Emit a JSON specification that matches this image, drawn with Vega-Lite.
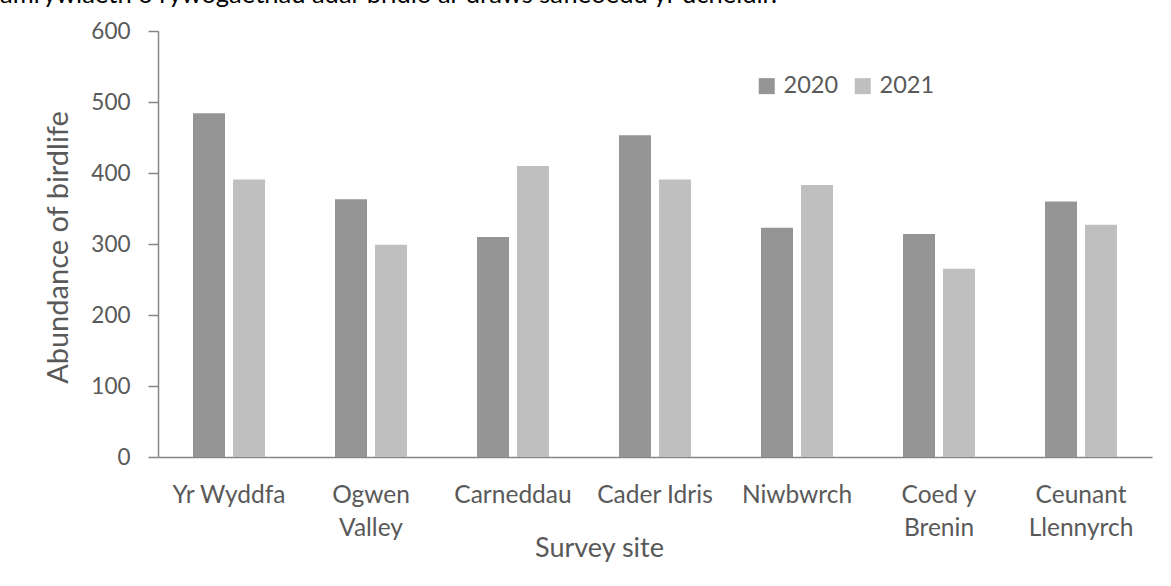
{
  "$schema": "https://vega.github.io/schema/vega-lite/v6.json",
  "width": 994,
  "height": 426,
  "autosize": {"type": "none"},
  "padding": {"left": 158, "top": 31, "right": 19, "bottom": 129},
  "background": "white",
  "title": {
    "text": "amrywiaeth o rywogaethau adar bridio ar draws safleoedd yr ucheldir.",
    "anchor": "start",
    "frame": "group",
    "dx": -158,
    "dy": 8,
    "offset": 0,
    "baseline": "alphabetic",
    "font": "Lato",
    "fontSize": 25.5,
    "fontWeight": "normal",
    "color": "#000000"
  },
  "data": {
    "values": [
      {"site": "Yr Wyddfa", "year": "2020", "value": 484},
      {"site": "Yr Wyddfa", "year": "2021", "value": 391},
      {"site": "Ogwen Valley", "year": "2020", "value": 363},
      {"site": "Ogwen Valley", "year": "2021", "value": 299},
      {"site": "Carneddau", "year": "2020", "value": 310},
      {"site": "Carneddau", "year": "2021", "value": 410},
      {"site": "Cader Idris", "year": "2020", "value": 453},
      {"site": "Cader Idris", "year": "2021", "value": 391},
      {"site": "Niwbwrch", "year": "2020", "value": 323},
      {"site": "Niwbwrch", "year": "2021", "value": 383},
      {"site": "Coed y Brenin", "year": "2020", "value": 314},
      {"site": "Coed y Brenin", "year": "2021", "value": 265},
      {"site": "Ceunant Llennyrch", "year": "2020", "value": 360},
      {"site": "Ceunant Llennyrch", "year": "2021", "value": 327}
    ]
  },
  "mark": {"type": "bar"},
  "encoding": {
    "x": {
      "field": "site",
      "type": "nominal",
      "sort": null,
      "scale": {"paddingInner": 0.493, "paddingOuter": 0.2465},
      "axis": {
        "title": "Survey site",
        "titleX": 441,
        "titleY": 99,
        "titleBaseline": "alphabetic",
        "titleAlign": "center",
        "titleFont": "Lato",
        "titleFontSize": 27,
        "titleFontWeight": "normal",
        "titleColor": "#595959",
        "labelAngle": 0,
        "labelFont": "Lato",
        "labelFontSize": 24.5,
        "labelColor": "#595959",
        "labelBaseline": "alphabetic",
        "labelPadding": 45,
        "labelLineHeight": 33,
        "labelLimit": 300,
        "labelExpr": "datum.value == 'Ogwen Valley' ? ['Ogwen', 'Valley'] : datum.value == 'Coed y Brenin' ? ['Coed y', 'Brenin'] : datum.value == 'Ceunant Llennyrch' ? ['Ceunant', 'Llennyrch'] : datum.value",
        "ticks": false,
        "tickSize": 0,
        "domain": true,
        "domainColor": "#868686",
        "domainWidth": 1.5,
        "grid": false
      }
    },
    "xOffset": {
      "field": "year",
      "type": "nominal",
      "scale": {"paddingInner": 0.2, "paddingOuter": 0}
    },
    "y": {
      "field": "value",
      "type": "quantitative",
      "scale": {"domain": [0, 600], "nice": false},
      "axis": {
        "title": "Abundance of birdlife",
        "titleX": -91,
        "titleY": 216,
        "titleAngle": 270,
        "titleBaseline": "alphabetic",
        "titleAlign": "center",
        "titleFont": "Lato",
        "titleFontSize": 29,
        "titleFontWeight": "normal",
        "titleColor": "#595959",
        "values": [0, 100, 200, 300, 400, 500, 600],
        "labelFont": "Lato",
        "labelFontSize": 22.5,
        "labelColor": "#595959",
        "labelPadding": 18,
        "ticks": true,
        "tickSize": 10,
        "tickColor": "#868686",
        "tickWidth": 1.5,
        "domain": true,
        "domainColor": "#868686",
        "domainWidth": 1.5,
        "grid": false
      }
    },
    "color": {
      "field": "year",
      "type": "nominal",
      "scale": {"domain": ["2020", "2021"], "range": ["#959595", "#bfbfbf"]},
      "legend": {
        "title": null,
        "orient": "none",
        "legendX": 597,
        "legendY": 43,
        "direction": "horizontal",
        "symbolType": "square",
        "symbolSize": 256,
        "symbolStrokeWidth": 0,
        "labelFont": "Lato",
        "labelFontSize": 23.5,
        "labelColor": "#595959",
        "labelOffset": 5,
        "columnPadding": 12
      }
    }
  },
  "config": {
    "view": {"stroke": null},
    "font": "Lato"
  }
}
